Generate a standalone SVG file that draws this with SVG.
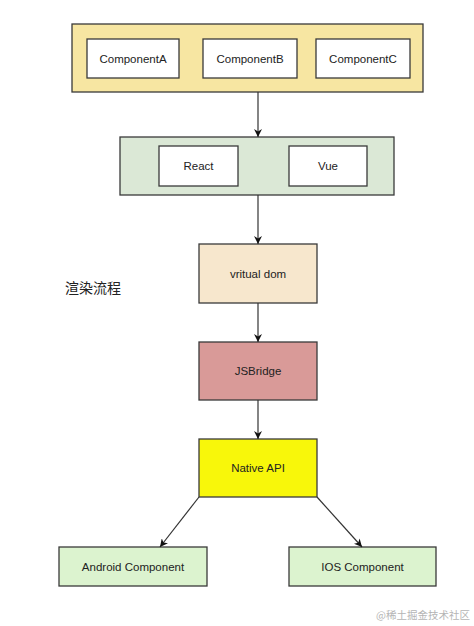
<svg xmlns="http://www.w3.org/2000/svg" width="474" height="626" viewBox="0 0 474 626">
<style>
  .box { stroke: #3a3a3a; stroke-width: 1.3; }
  .lbl { font-family: "Liberation Sans", Arial, sans-serif; font-size: 11.5px; fill: #222; text-anchor: middle; dominant-baseline: central; }
  .edge { stroke: #333; stroke-width: 1.2; fill: none; marker-end: url(#arrow); }
</style>
<defs>
  <marker id="arrow" viewBox="0 0 10 10" refX="10" refY="5" markerWidth="8" markerHeight="8" markerUnits="userSpaceOnUse" orient="auto">
    <path d="M0,0 L10,5 L0,10 L3,5 Z" fill="#111"/>
  </marker>
</defs>
<rect width="474" height="626" fill="#ffffff"/>

<g id="components">
  <rect class="box" x="72" y="24" width="351" height="68" fill="#f7e6a2"/>
  <g id="componentA">
    <rect class="box" x="87" y="39" width="92" height="39" fill="#ffffff"/>
    <text class="lbl" x="133" y="58.5">ComponentA</text>
  </g>
  <g id="componentB">
    <rect class="box" x="203" y="39" width="94" height="39" fill="#ffffff"/>
    <text class="lbl" x="250" y="58.5">ComponentB</text>
  </g>
  <g id="componentC">
    <rect class="box" x="316" y="39" width="94" height="39" fill="#ffffff"/>
    <text class="lbl" x="363" y="58.5">ComponentC</text>
  </g>
</g>

<g id="frameworks">
  <rect class="box" x="120" y="137" width="274" height="58" fill="#dbe8d6"/>
  <g id="react">
    <rect class="box" x="159" y="146" width="79" height="40" fill="#ffffff"/>
    <text class="lbl" x="198.5" y="166">React</text>
  </g>
  <g id="vue">
    <rect class="box" x="289" y="146" width="78" height="40" fill="#ffffff"/>
    <text class="lbl" x="328" y="166">Vue</text>
  </g>
</g>

<g id="vdom">
  <rect class="box" x="199" y="244" width="118" height="59" fill="#f7e7cd"/>
  <text class="lbl" x="258" y="273.5">vritual dom</text>
</g>

<g id="title">
  <text x="65" y="293" font-family="'Noto Sans CJK SC', 'Noto Sans', sans-serif" font-size="14" fill="#222">渲染流程</text>
</g>

<g id="jsbridge">
  <rect class="box" x="199" y="342" width="118" height="58" fill="#d99a98"/>
  <text class="lbl" x="258" y="371">JSBridge</text>
</g>

<g id="nativeapi">
  <rect class="box" x="199" y="439" width="118" height="58" fill="#f8f70a"/>
  <text class="lbl" x="258" y="468">Native API</text>
</g>

<g id="android">
  <rect class="box" x="59" y="547" width="148" height="39" fill="#dcf3cf"/>
  <text class="lbl" x="133" y="566.5">Android Component</text>
</g>

<g id="ios">
  <rect class="box" x="289" y="547" width="147" height="39" fill="#dcf3cf"/>
  <text class="lbl" x="362.5" y="566.5">IOS Component</text>
</g>

<g id="connectors">
  <line class="edge" x1="258" y1="92" x2="258" y2="137"/>
  <line class="edge" x1="258" y1="195" x2="258" y2="244"/>
  <line class="edge" x1="258" y1="303" x2="258" y2="342"/>
  <line class="edge" x1="258" y1="400" x2="258" y2="439"/>
  <line class="edge" x1="199" y1="497" x2="160" y2="547"/>
  <line class="edge" x1="317" y1="497" x2="362" y2="547"/>
</g>

<text x="470" y="619" text-anchor="end" font-family="'Noto Sans CJK SC', 'Noto Sans', sans-serif" font-size="10.5" fill="#b5b5b5">@稀土掘金技术社区</text>
</svg>
